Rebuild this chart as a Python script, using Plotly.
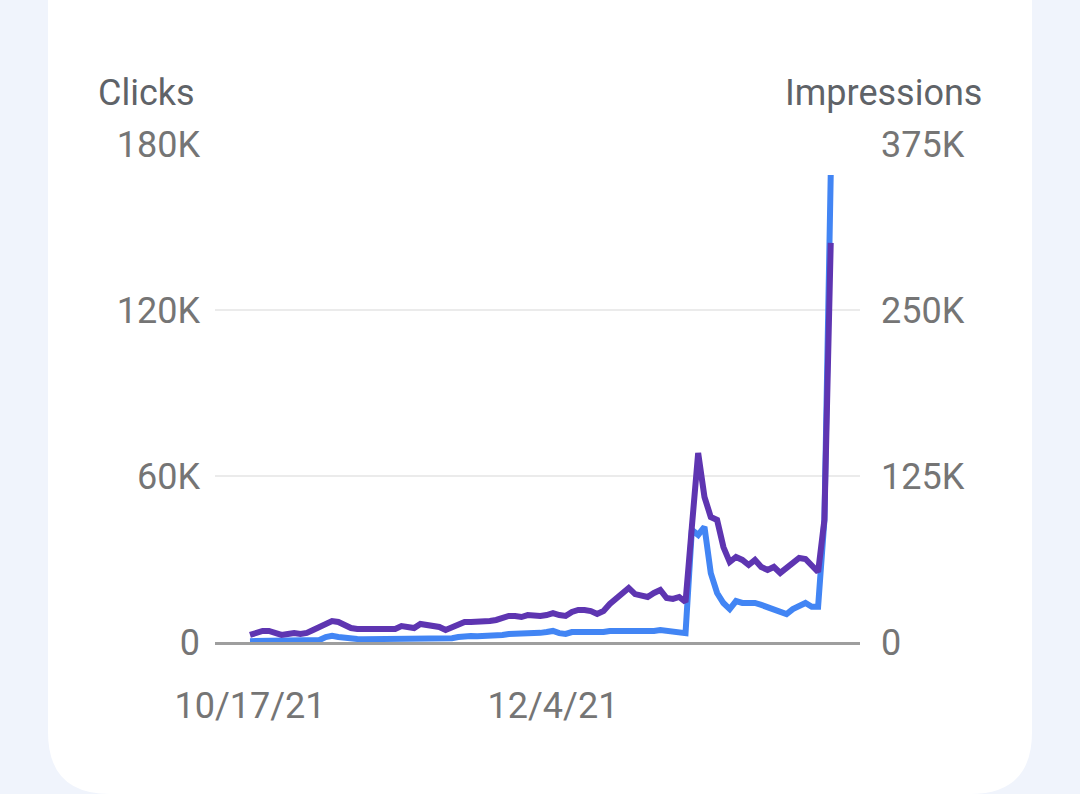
import pandas as pd
import plotly.graph_objects as go

# daily values, 10/17/21 .. 1/17/22
dates = pd.date_range("2021-10-17", periods=93, freq="D")

clicks = [300, 300, 300, 300, 300, 400, 400, 400, 400, 400,
          700, 700, 1800, 2200, 1800, 1400, 1100, 1100, 1000, 1000,
          1100, 1100, 1200, 1100, 1100, 1200, 1200, 1100, 1200, 1200,
          1100, 1100, 1400, 1800, 2200, 2200, 2100, 2100, 2200, 2200,
          2500, 2900, 2900, 2900, 3200, 3200, 3300, 3600, 4000, 3200,
          2900, 3600, 3600, 3700, 3600, 3300, 3600, 4000, 4000, 3900,
          4000, 4000, 3900, 3600, 4000, 4300, 4000, 4000, 3900, 3200,
          40500, 38700, 41600, 24900, 17700, 14100, 11900, 14800, 14100, 14100,
          14100, 13400, 12700, 11600, 10800, 10100, 11900, 13000, 14100, 12700,
          12700, 44100, 168800]

impressions = [5300, 6800, 8300, 8300, 6800, 5300, 6000, 6800, 6000, 6800,
               9000, 11300, 13600, 15800, 15100, 12800, 10500, 9800, 9800, 10500,
               10500, 10500, 9800, 9800, 12000, 11300, 10500, 13600, 12800, 11300,
               11300, 9000, 11300, 13600, 15100, 15100, 15100, 15100, 15800, 16600,
               18100, 19600, 19600, 18800, 20300, 19600, 19600, 20300, 21800, 20300,
               19600, 22600, 24100, 24100, 23300, 21100, 23300, 28600, 32400, 37600,
               40700, 36100, 34600, 33900, 36900, 39200, 33100, 32400, 33900, 30100,
               86600, 142300, 109200, 94100, 91900, 71500, 60200, 64000, 61800, 58000,
               61800, 56500, 54200, 56500, 52000, 55700, 59500, 63300, 62500, 58000,
               52700, 91900, 300500]

left_ticks = [0, 60000, 120000, 180000]
left_labels = ["0", "60K", "120K", "180K"]
right_ticks = [0, 125000, 250000, 375000]
right_labels = ["0", "125K", "250K", "375K"]
x_ticks = ["2021-10-17", "2021-12-04"]
x_labels = ["10/17/21", "12/4/21"]

W, H = 1080, 794
L, R, T, B = 215, 860, 144, 642
pw, ph = R - L, B - T


def px(x):
    return (x - L) / pw


def py(y):
    return (B - y) / ph


fig = go.Figure()
fig.add_trace(go.Scatter(x=dates, y=impressions, yaxis="y2", mode="lines",
                         line=dict(color="#5e35b1", width=6), name="Impressions"))
fig.add_trace(go.Scatter(x=dates, y=clicks, mode="lines",
                         line=dict(color="#4285f4", width=6), name="Clicks"))

# white card with rounded bottom corners
x0, x1, yb, yt = px(48), px(1032), py(794), py(-20)
rx, ry = 62 / pw, 62 / ph
card = (f"M {x0},{yt} L {x0},{yb + ry} Q {x0},{yb} {x0 + rx},{yb} "
        f"L {x1 - rx},{yb} Q {x1},{yb} {x1},{yb + ry} L {x1},{yt} Z")
fig.add_shape(type="path", path=card, xref="paper", yref="paper",
              fillcolor="white", line=dict(width=0), layer="below")

tick_font = dict(family="Roboto", size=36, color="#757575")
fig.update_layout(
    width=W, height=H,
    margin=dict(l=L, r=W - R, t=T, b=H - B),
    paper_bgcolor="#f0f4fc",
    plot_bgcolor="rgba(0,0,0,0)",
    showlegend=False,
    hovermode=False,
    xaxis=dict(type="date", range=["2021-10-11 11:00", "2022-01-21 15:20"],
               tickvals=x_ticks, ticktext=x_labels, showgrid=False,
               showline=True, linecolor="#9e9e9e", linewidth=3,
               ticks="", tickfont=tick_font, ticklabelstandoff=30,
               zeroline=False),
    yaxis=dict(range=[0, 180000], tickvals=left_ticks, ticktext=left_labels,
               showgrid=True, gridcolor="#ebebeb", gridwidth=2,
               zeroline=False, ticks="", tickfont=tick_font,
               ticklabelstandoff=14),
    yaxis2=dict(range=[0, 375000], tickvals=right_ticks, ticktext=right_labels,
                overlaying="y", side="right", showgrid=False, zeroline=False,
                ticks="", tickfont=tick_font, ticklabelstandoff=20),
    annotations=[
        dict(text="Clicks", xref="paper", yref="paper", x=px(96), y=py(93),
             xanchor="left", yanchor="middle", showarrow=False,
             font=dict(family="Roboto", size=36, color="#5f6368")),
        dict(text="Impressions", xref="paper", yref="paper", x=px(984), y=py(93),
             xanchor="right", yanchor="middle", showarrow=False,
             font=dict(family="Roboto", size=36, color="#5f6368")),
    ],
)

fig.write_html("out.html", config={"displayModeBar": False},
               post_script="document.body.style.margin='0';"
                           "document.body.style.background='#f0f4fc';")
